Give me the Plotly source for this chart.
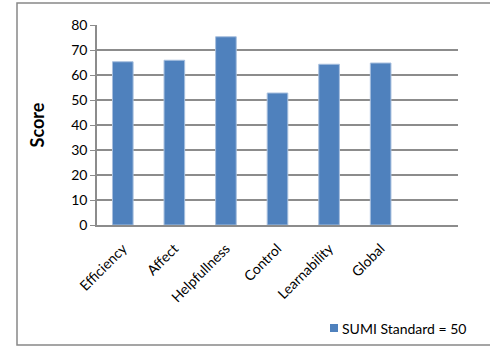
import plotly.graph_objects as go

categories = ["Efficiency", "Affect", "Helpfullness", "Control", "Learnability", "Global", " "]
scores = [65.3, 65.9, 75.3, 52.8, 64.3, 64.8, None]
series_name = "SUMI Standard = 50"
y_ticks = [0, 10, 20, 30, 40, 50, 60, 70, 80]

FONT = "Lato, 'Open Sans', sans-serif"
GRID = "#8c8c8c"
BAR = "#4f81bd"

fig = go.Figure()
fig.add_trace(go.Bar(
    x=categories, y=scores, name=series_name,
    marker=dict(color=BAR, line=dict(color="#a7bfde", width=1)),
    width=0.4, showlegend=False,
))

W, H = 490, 347
L, R, T, B = 97, 32, 25, 122
pw, ph = W - L - R, H - T - B

def px_x(x):
    return (x - L) / pw

def px_y(y):
    return (H - B - y) / ph

fig.update_layout(
    width=W, height=H,
    margin=dict(l=L, r=R, t=T, b=B, autoexpand=False),
    paper_bgcolor="white", plot_bgcolor="white",
    font=dict(family=FONT, size=13, color="#000000"),
    showlegend=False,
    bargap=0.6,
    shapes=[
        dict(type="rect", xref="paper", yref="paper",
             x0=px_x(17), x1=px_x(500), y0=px_y(345), y1=px_y(3),
             line=dict(color="#888888", width=1.5), layer="below"),
        dict(type="rect", xref="paper", yref="paper",
             x0=px_x(330), x1=px_x(338), y0=px_y(332), y1=px_y(324),
             line=dict(width=0), fillcolor=BAR),
    ],
    annotations=[
        dict(text=series_name, xref="paper", yref="paper",
             x=px_x(340), y=px_y(328), xanchor="left", yanchor="middle",
             showarrow=False, font=dict(size=14)),
    ],
)
fig.update_xaxes(
    type="category", categoryorder="array", categoryarray=categories,
    tickangle=-45, tickfont=dict(size=14), automargin=False,
    ticklabelstandoff=8,
    showline=True, linecolor=GRID, linewidth=2, ticks="",
    range=[-0.5, 6.5],
)
fig.update_yaxes(
    range=[0, 80], tickvals=y_ticks, tickfont=dict(size=14), automargin=False,
    showgrid=True, gridcolor=GRID, gridwidth=1.5,
    showline=True, linecolor=GRID, linewidth=1.5,
    ticks="outside", ticklen=5, tickcolor=GRID,
    zeroline=False,
    title=dict(text="<b>Score</b>", font=dict(size=18), standoff=22),
)

fig.write_html("out.html")
